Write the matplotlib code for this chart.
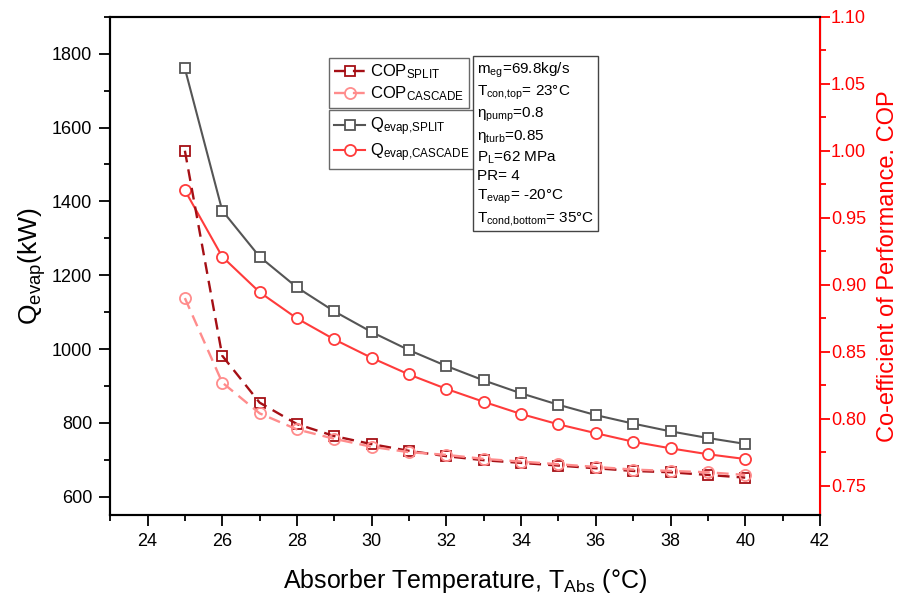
import numpy as np
import matplotlib.pyplot as plt
from matplotlib.ticker import MultipleLocator

plt.rcParams['font.family'] = ['Liberation Sans', 'DejaVu Sans']
plt.rcParams['mathtext.fontset'] = 'custom'
plt.rcParams['mathtext.rm'] = 'Liberation Sans'
plt.rcParams['mathtext.it'] = 'Liberation Sans:italic'
plt.rcParams['mathtext.default'] = 'regular'

# absorber temperature (C)
t_abs = [25, 26, 27, 28, 29, 30, 31, 32, 33, 34, 35, 36, 37, 38, 39, 40]

# evaporator load (kW)
q_split = [1760, 1375, 1250, 1167, 1102, 1046, 997, 954, 915, 880, 849, 821, 798, 777, 759, 743]
q_cascade = [1430, 1250, 1154, 1083, 1026, 976, 931, 892, 857, 824, 796, 772, 749, 731, 715, 702]

# coefficient of performance
cop_split = [1.000, 0.847, 0.812, 0.796, 0.787, 0.781, 0.776, 0.772, 0.769, 0.767,
             0.765, 0.763, 0.761, 0.760, 0.758, 0.756]
cop_cascade = [0.890, 0.827, 0.804, 0.792, 0.785, 0.779, 0.775, 0.773, 0.770, 0.768,
               0.766, 0.764, 0.762, 0.761, 0.760, 0.758]

params = ['m$_{eg}$=69.8kg/s', 'T$_{con{,}top}$= 23°C', 'η$_{pump}$=0.8', 'η$_{turb}$=0.85',
          'P$_{L}$=62 MPa', 'PR= 4', 'T$_{evap}$= -20°C', 'T$_{cond{,}bottom}$= 35°C']

GRAY = '#555555'
RED = '#ff3b3b'
DARKRED = '#a50f15'
PINK = '#ff8c8c'

fig = plt.figure(figsize=(9.03, 5.99), dpi=100)
ax = fig.add_axes([0.122, 0.140, 0.786, 0.832])
ax2 = ax.twinx()

l_qs, = ax.plot(t_abs, q_split, '-s', color=GRAY, lw=1.5, ms=7, mfc='white', mec=GRAY, mew=1.3,
                label='Q$_{evap{,}SPLIT}$')
l_qc, = ax.plot(t_abs, q_cascade, '-o', color=RED, lw=1.5, ms=8, mfc='white', mec=RED, mew=1.3,
                label='Q$_{evap{,}CASCADE}$')
l_cs, = ax2.plot(t_abs, cop_split, 's', ls=(0, (5, 3)), color=DARKRED, lw=1.7, ms=7, mfc='none',
                 mec=DARKRED, mew=1.3, label='COP$_{SPLIT}$')
l_cc, = ax2.plot(t_abs, cop_cascade, 'o', ls=(0, (5, 3)), color=PINK, lw=1.7, ms=8, mfc='none',
                 mec=PINK, mew=1.3, label='COP$_{CASCADE}$')

ax.set_xlim(23, 42)
ax.set_ylim(550, 1900)
ax2.set_ylim(0.728, 1.10)

ax.xaxis.set_major_locator(MultipleLocator(2))
ax.xaxis.set_minor_locator(MultipleLocator(1))
ax.yaxis.set_major_locator(MultipleLocator(200))
ax.yaxis.set_minor_locator(MultipleLocator(100))
ax2.yaxis.set_major_locator(MultipleLocator(0.05))
ax2.yaxis.set_minor_locator(MultipleLocator(0.025))

ax.tick_params(axis='both', which='major', direction='out', length=8, width=1.3, labelsize=13,
               pad=5)
ax.tick_params(axis='both', which='minor', direction='out', length=4, width=1.3)
ax2.tick_params(axis='y', which='major', direction='out', length=7, width=1.3, labelsize=13,
                colors='red', pad=1)
ax2.tick_params(axis='y', which='minor', direction='out', length=4, width=1.3, colors='red')
ax2.yaxis.set_major_formatter(plt.FormatStrFormatter('%.2f'))

for s in ['left', 'bottom', 'top']:
    ax.spines[s].set_linewidth(1.5)
    ax2.spines[s].set_linewidth(1.5)
ax2.spines['right'].set_color('red')
ax2.spines['right'].set_linewidth(1.5)

ax.set_xlabel('Absorber Temperature, T$_{Abs}$ (°C)', fontsize=18, labelpad=12)
ax.set_ylabel('Q$_{evap}$(kW)', fontsize=19, labelpad=3)
ax2.set_ylabel('Co-efficient of Performance. COP', fontsize=17, color='red', labelpad=8)

leg_kw = dict(fontsize=12, frameon=True, fancybox=False, edgecolor='#444444',
              handlelength=1.9, borderpad=0.3, labelspacing=0.2, handletextpad=0.25,
              borderaxespad=0)
leg1 = ax2.legend(handles=[l_cs, l_cc], loc='upper left', bbox_to_anchor=(0.308, 0.918), **leg_kw)
leg1.get_frame().set_linewidth(1.0)
ax2.add_artist(leg1)
leg2 = ax2.legend(handles=[l_qs, l_qc], loc='upper left', bbox_to_anchor=(0.308, 0.812), **leg_kw)
leg2.get_frame().set_linewidth(1.0)

ax2.text(0.517, 0.912, '\n'.join(params), transform=ax.transAxes, fontsize=11,
         va='top', ha='left', linespacing=1.33, zorder=10,
         bbox=dict(boxstyle='square,pad=0.25', fc='white', ec='#444444', lw=1.0))

fig.savefig('out.png', dpi=100)
